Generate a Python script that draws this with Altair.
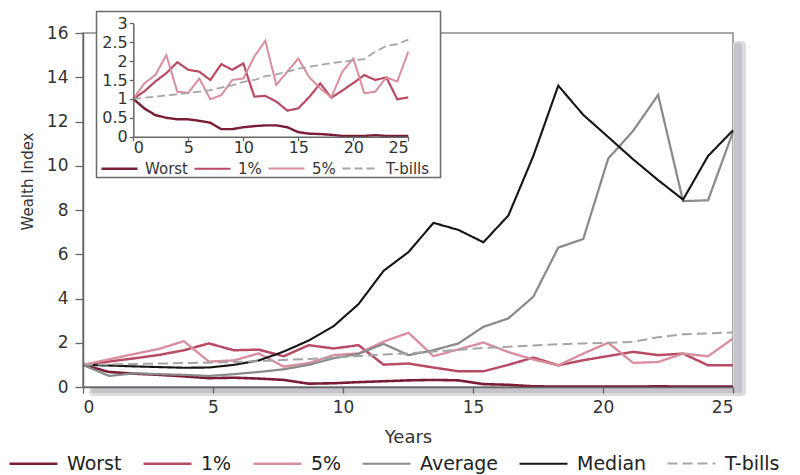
import altair as alt
import pandas as pd

# ---------------- main chart data (positions) ----------------
main_years = [0, 1.0, 2.0, 2.92, 3.88, 4.84, 5.8, 6.76, 7.72, 8.68, 9.64, 10.6, 11.56,
              12.52, 13.48, 14.44, 15.4, 16.36, 17.32, 18.28, 19.24, 20.2, 21.16,
              22.12, 23.08, 24.04, 25.0]
main_worst = [1.0, 0.68, 0.6, 0.55, 0.48, 0.4, 0.42, 0.38, 0.32, 0.15, 0.17, 0.22, 0.26,
              0.3, 0.32, 0.3, 0.13, 0.1, 0.03, 0.02, 0.02, 0.02, 0.02, 0.03, 0.02, 0.02, 0.02]
main_p1 = [1.0, 1.15, 1.3, 1.45, 1.66, 1.97, 1.66, 1.69, 1.39, 1.89, 1.74, 1.89, 1.01,
           1.06, 0.88, 0.71, 0.71, 1.0, 1.33, 0.98, 1.21, 1.4, 1.59, 1.44, 1.51, 0.98, 0.98]
main_p5 = [1.0, 1.25, 1.5, 1.72, 2.07, 1.15, 1.2, 1.52, 0.92, 1.08, 1.44, 1.52, 2.05,
           2.45, 1.39, 1.7, 2.01, 1.58, 1.24, 0.98, 1.51, 2.0, 1.09, 1.13, 1.51, 1.39, 2.19]
main_avg = [1.0, 0.5, 0.62, 0.58, 0.55, 0.5, 0.58, 0.68, 0.8, 1.0, 1.3, 1.5, 1.95,
            1.44, 1.66, 1.97, 2.72, 3.1, 4.08, 6.3, 6.69, 10.32, 11.58, 13.2, 8.4, 8.44, 11.53]
main_median = [1.0, 0.97, 0.93, 0.9, 0.87, 0.88, 1.0, 1.2, 1.6, 2.1, 2.75, 3.75, 5.25,
               6.1, 7.42, 7.1, 6.54, 7.75, 10.44, 13.62, 12.3, 11.3, 10.29, 9.35, 8.47, 10.44, 11.6]
main_tbills = [1.0, 1.02, 1.04, 1.06, 1.08, 1.1, 1.13, 1.17, 1.22, 1.27, 1.33, 1.4, 1.47,
               1.52, 1.6, 1.68, 1.76, 1.82, 1.88, 1.93, 1.97, 2.0, 2.04, 2.25, 2.38, 2.42, 2.47]

# ---------------- inset data ----------------
inset_years = list(range(26))
inset_worst = [1.0, 0.75, 0.57, 0.5, 0.46, 0.46, 0.42, 0.37, 0.2, 0.2, 0.25, 0.28, 0.3,
               0.3, 0.25, 0.12, 0.08, 0.07, 0.05, 0.02, 0.02, 0.02, 0.04, 0.02, 0.02, 0.02]
inset_p1 = [1.0, 1.2, 1.46, 1.68, 1.97, 1.77, 1.72, 1.5, 1.92, 1.77, 1.94, 1.06, 1.08,
            0.93, 0.69, 0.75, 1.05, 1.41, 1.03, 1.22, 1.42, 1.63, 1.5, 1.57, 0.99, 1.04]
inset_p5 = [1.0, 1.41, 1.63, 2.16, 1.19, 1.16, 1.54, 0.99, 1.1, 1.5, 1.54, 2.12, 2.54,
            1.37, 1.72, 2.07, 1.57, 1.28, 1.04, 1.72, 2.07, 1.15, 1.19, 1.57, 1.46, 2.25]
inset_tbills = [1.0, 1.03, 1.06, 1.09, 1.12, 1.16, 1.19, 1.23, 1.3, 1.36, 1.45, 1.5, 1.6,
                1.65, 1.72, 1.8, 1.85, 1.9, 1.95, 1.98, 2.02, 2.05, 2.25, 2.4, 2.45, 2.57]

series_main = ["Worst", "1%", "5%", "Average", "Median", "T-bills"]
colors_main = ["#7a1c33", "#b84a63", "#d98e9e", "#8a8a8a", "#151515", "#a5a5a5"]
dash_main = [[1, 0], [1, 0], [1, 0], [1, 0], [1, 0], [10, 5]]
width_main = [2.6, 2, 2, 2, 2, 2]

series_inset = ["Worst", "1%", "5%", "T-bills"]
colors_inset = ["#7a1c33", "#b84a63", "#d98e9e", "#a5a5a5"]
dash_inset = [[1, 0], [1, 0], [1, 0], [8, 4]]
width_inset = [2.4, 1.8, 1.8, 1.8]

FONT = "DejaVu Sans"

rows = []
for name, vals in zip(series_main, [main_worst, main_p1, main_p5, main_avg, main_median, main_tbills]):
    for x, v in zip(main_years, vals):
        rows.append({"year": x, "value": v, "series": name})
main_df = pd.DataFrame(rows)

rows = []
for name, vals in zip(series_inset, [inset_worst, inset_p1, inset_p5, inset_tbills]):
    for x, v in zip(inset_years, vals):
        rows.append({"year": x, "value": v, "series": name})
inset_df = pd.DataFrame(rows)

W, H = 650, 354
dummy = pd.DataFrame({"a": [0]})

# shadows of the main frame
shadow_r = alt.Chart(dummy).mark_rect(color="#dcdce0", cornerRadius=4).encode(
    x=alt.value(W), x2=alt.value(W + 13), y=alt.value(8), y2=alt.value(H + 9))
shadow_r2 = alt.Chart(dummy).mark_rect(color="#c4c4ca", cornerRadius=3).encode(
    x=alt.value(W + 1), x2=alt.value(W + 9), y=alt.value(10), y2=alt.value(H + 6))
shadow_b = alt.Chart(dummy).mark_rect(color="#dcdce0", cornerRadius=4).encode(
    x=alt.value(6), x2=alt.value(W + 13), y=alt.value(H), y2=alt.value(H + 9))
shadow_b2 = alt.Chart(dummy).mark_rect(color="#c4c4ca", cornerRadius=3).encode(
    x=alt.value(8), x2=alt.value(W + 9), y=alt.value(H + 1), y2=alt.value(H + 6))

main_legend = alt.Legend(title=None, orient="none", legendX=-75, legendY=405,
                         direction="horizontal", columns=6, symbolType="stroke",
                         symbolSize=2300, symbolStrokeWidth=3, labelFontSize=19,
                         labelFont=FONT, labelColor="#222", labelOffset=8,
                         columnPadding=16, padding=0)

main = alt.Chart(main_df).mark_line().encode(
    x=alt.X("year:Q", scale=alt.Scale(domain=[0, 25], nice=False, zero=False),
            axis=alt.Axis(title="Years", values=[0, 5, 10, 15, 20, 25], orient="bottom",
                          grid=False, tickSize=6, labelPadding=6, labelFontSize=17,
                          titleFontSize=18, titleFontWeight="normal", titlePadding=13,
                          zindex=1)),
    y=alt.Y("value:Q", scale=alt.Scale(domain=[0, 16], nice=False),
            axis=alt.Axis(title="Wealth Index", values=list(range(0, 17, 2)), orient="left",
                          grid=False, tickSize=8, labelPadding=7, labelFontSize=17,
                          titleFontSize=15, titleFontWeight="normal", titleX=-56, titleY=148,
                          titleAngle=270, titleAlign="center", titleBaseline="middle",
                          zindex=1)),
    color=alt.Color("series:N", scale=alt.Scale(domain=series_main, range=colors_main),
                    legend=main_legend),
    strokeDash=alt.StrokeDash("series:N", scale=alt.Scale(domain=series_main, range=dash_main),
                              legend=main_legend),
    strokeWidth=alt.StrokeWidth("series:N", scale=alt.Scale(domain=series_main, range=width_main),
                                legend=None),
)

frame = alt.Chart(dummy).mark_rect(fill="white", stroke="#6a6a6a", strokeWidth=1.5).encode(
    x=alt.value(13.5), x2=alt.value(357.5), y=alt.value(-21.5), y2=alt.value(144.5))

inset_legend = alt.Legend(title=None, orient="none", legendX=17, legendY=116,
                          direction="horizontal", columns=4, symbolType="stroke",
                          symbolSize=1296, symbolStrokeWidth=2.5, labelFontSize=15,
                          labelFont=FONT, labelColor="#333", labelOffset=6,
                          columnPadding=2, padding=0)

inset = alt.Chart(inset_df).mark_line().encode(
    x=alt.X("year:Q", scale=alt.Scale(domain=[0, 25], range=[50.3, 325.3], nice=False, zero=False),
            axis=alt.Axis(title=None, values=[0, 5, 10, 15, 20, 25], orient="bottom",
                          offset=-250.3, grid=False, tickSize=4, labelPadding=-1,
                          labelFontSize=16, zindex=1)),
    y=alt.Y("value:Q", scale=alt.Scale(domain=[0, 3], range=[103.7, -9.7], nice=False),
            axis=alt.Axis(title=None, values=[0, 0.5, 1, 1.5, 2, 2.5, 3], format="~g",
                          orient="left", offset=-50.3, grid=False, tickSize=4,
                          labelPadding=2, labelFontSize=16, zindex=1)),
    color=alt.Color("series:N", scale=alt.Scale(domain=series_inset, range=colors_inset),
                    legend=inset_legend),
    strokeDash=alt.StrokeDash("series:N", scale=alt.Scale(domain=series_inset, range=dash_inset),
                              legend=inset_legend),
    strokeWidth=alt.StrokeWidth("series:N", scale=alt.Scale(domain=series_inset, range=width_inset),
                                legend=None),
)

chart = alt.layer(shadow_r, shadow_b, shadow_r2, shadow_b2, main, frame, inset).resolve_scale(
    x="independent", y="independent", color="independent",
    strokeDash="independent", strokeWidth="independent"
).properties(
    width=W, height=H,
    autosize=alt.AutoSizeParams(type="none"),
    padding={"left": 75, "top": 25, "right": 59, "bottom": 88},
).configure(font=FONT).configure_axis(
    domainColor="#666", tickColor="#666", labelColor="#333", titleColor="#333",
    domainWidth=1.5, tickWidth=1.3, labelFont=FONT, titleFont=FONT
).configure_view(stroke="#8a8a8a", strokeWidth=1.5)

chart.save("out.html", embed_options={"renderer": "svg", "actions": False})
